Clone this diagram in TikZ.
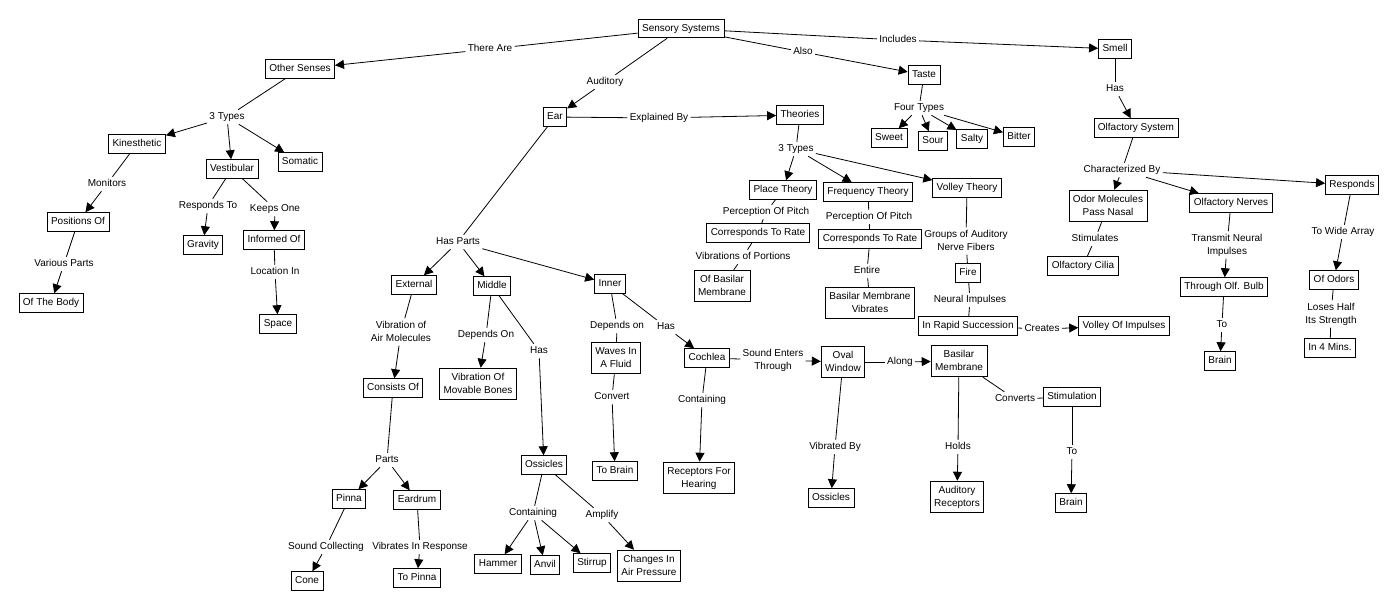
\documentclass[tikz,border=0pt]{standalone}
\usepackage{fontspec}
\setmainfont{Liberation Sans}
\usetikzlibrary{arrows.meta}
\begin{document}
\begin{tikzpicture}[x=1pt,y=-1pt,line width=0.8pt,
  concept/.style={draw,fill=white,align=center,font=\fontsize{10}{13}\selectfont,
    inner xsep=4pt,inner ysep=4.5pt,text height=7.5pt,text depth=2.2pt},
  concept2/.style={concept,text height=20.5pt},
  link/.style={align=center,font=\fontsize{10}{13}\selectfont,inner sep=2pt,
    text height=7.5pt,text depth=2.2pt},
  link2/.style={link,text height=20.5pt},
  arr/.style={-{Triangle[length=9pt,width=9pt]}}]

\useasboundingbox (0,0) rectangle (1398,610);

\node[concept] (ss) at (681,28.5) {Sensory Systems};
\node[link] (lthere) at (490,49) {There Are};
\node[concept] (other) at (300,69) {Other Senses};
\node[link] (laud) at (605,82) {Auditory};
\node[concept] (ear) at (555,117) {Ear};
\node[link] (lexpl) at (659,118) {Explained By};
\node[concept] (theo) at (800,115) {Theories};
\node[link] (lalso) at (803,52) {Also};
\node[concept] (taste) at (924,75) {Taste};
\node[link] (lincl) at (898,40) {Includes};
\node[concept] (smell) at (1115,49) {Smell};

% other senses
\node[link] (ltypesA) at (227,117) {3 Types};
\node[concept] (kin) at (137,144) {Kinesthetic};
\node[concept] (vest) at (232,169) {Vestibular};
\node[concept] (som) at (300,162) {Somatic};
\node[link] (lmon) at (107,184) {Monitors};
\node[concept] (pos) at (78,222) {Positions Of};
\node[link] (lvar) at (64,264) {Various Parts};
\node[concept] (body) at (51,303) {Of The Body};
\node[link] (lresp) at (208,206) {Responds To};
\node[concept] (grav) at (203,245) {Gravity};
\node[link] (lkeep) at (275,209) {Keeps One};
\node[concept] (inf) at (274,240) {Informed Of};
\node[link] (lloc) at (275,272) {Location In};
\node[concept] (space) at (278,324) {Space};

% ear
\node[link] (lparts) at (458,242) {Has Parts};
\node[concept] (ext) at (414,285) {External};
\node[concept] (mid) at (492,286) {Middle};
\node[concept] (inn) at (610,284) {Inner};
\node[link2] (lvib) at (401,332) {Vibration of\\Air Molecules};
\node[concept] (cons) at (393,388) {Consists Of};
\node[link] (lpt) at (387,460) {Parts};
\node[concept] (pinna) at (349,499) {Pinna};
\node[concept] (drum) at (417,500) {Eardrum};
\node[link] (lsound) at (326,547) {Sound Collecting};
\node[concept] (cone) at (307,581) {Cone};
\node[link] (lvresp) at (420,547) {Vibrates In Response};
\node[concept] (topin) at (417,578) {To Pinna};
\node[link] (ldepM) at (486,335) {Depends On};
\node[concept2] (bones) at (478,384) {Vibration Of\\Movable Bones};
\node[link] (lhasM) at (539,351) {Has};
\node[concept] (oss) at (544,465) {Ossicles};
\node[link] (lcontO) at (533,513) {Containing};
\node[concept] (ham) at (498,564) {Hammer};
\node[concept] (anv) at (545,565) {Anvil};
\node[concept] (stir) at (592,563) {Stirrup};
\node[link] (lamp) at (602,515) {Amplify};
\node[concept2] (press) at (649,566) {Changes In\\Air Pressure};
\node[link] (ldepI) at (617,326) {Depends on};
\node[concept2] (waves) at (616,358) {Waves In\\A Fluid};
\node[link] (lconv) at (612,397) {Convert};
\node[concept] (tobrain) at (615,471) {To Brain};
\node[link] (lhasI) at (666,327) {Has};
\node[concept] (coch) at (707,358) {Cochlea};
\node[link] (lcontC) at (702,400) {Containing};
\node[concept2] (recH) at (699,478) {Receptors For\\Hearing};
\node[link2] (lenter) at (773,360) {Sound Enters\\Through};
\node[concept2] (oval) at (843,362) {Oval\\Window};
\node[link] (lalong) at (900,362) {Along};
\node[concept2] (basil) at (959,361) {Basilar\\Membrane};
\node[link] (lvby) at (835,447) {Vibrated By};
\node[concept] (oss2) at (831,498) {Ossicles};
\node[link] (lholds) at (958,447) {Holds};
\node[concept2] (audrec) at (957,497) {Auditory\\Receptors};
\node[link] (lconvs) at (1015,399) {Converts};
\node[concept] (stim) at (1072,397) {Stimulation};
\node[link] (lto) at (1072,452) {To};
\node[concept] (brain) at (1071,503) {Brain};

% theories
\node[link] (ltypesT) at (796,149) {3 Types};
\node[concept] (place) at (783,190) {Place Theory};
\node[concept] (freq) at (868,192) {Frequency Theory};
\node[concept] (volley) at (967,188) {Volley Theory};
\node[link] (lpitchP) at (766,212) {Perception Of Pitch};
\node[concept] (rateP) at (758,233) {Corresponds To Rate};
\node[link] (lport) at (743,257) {Vibrations of Portions};
\node[concept2] (ofbm) at (722,286) {Of Basilar\\Membrane};
\node[link] (lpitchF) at (869,217) {Perception Of Pitch};
\node[concept] (rateF) at (870,239) {Corresponds To Rate};
\node[link] (lentire) at (867,271) {Entire};
\node[concept2] (bmv) at (870,303) {Basilar Membrane\\Vibrates};
\node[link2] (lgroups) at (966,241) {Groups of Auditory\\Nerve Fibers};
\node[concept] (fire) at (968,273) {Fire};
\node[link] (lneural) at (970,300) {Neural Impulses};
\node[concept] (rapid) at (968,326) {In Rapid Succession};
\node[link] (lcreates) at (1042,329) {Creates};
\node[concept] (volimp) at (1124,326) {Volley Of Impulses};

% taste
\node[link] (lfour) at (919,108) {Four Types};
\node[concept] (sweet) at (889,138) {Sweet};
\node[concept] (sour) at (933,141) {Sour};
\node[concept] (salty) at (972,139) {Salty};
\node[concept] (bitter) at (1019,137) {Bitter};

% smell
\node[link] (lhasS) at (1115,89) {Has};
\node[concept] (olfsys) at (1136,128) {Olfactory System};
\node[link] (lchar) at (1122,170) {Characterized By};
\node[concept2] (odor) at (1108,206) {Odor Molecules\\Pass Nasal};
\node[concept] (olfn) at (1231,203) {Olfactory Nerves};
\node[concept] (resp) at (1352,185) {Responds};
\node[link] (lstim) at (1095,239) {Stimulates};
\node[concept] (cilia) at (1083,266) {Olfactory Cilia};
\node[link2] (ltrans) at (1227,245) {Transmit Neural\\Impulses};
\node[concept] (bulb) at (1224,287) {Through Olf. Bulb};
\node[link] (ltoB) at (1222,325) {To};
\node[concept] (brain2) at (1220,361) {Brain};
\node[link] (lwide) at (1343,232) {To Wide Array};
\node[concept] (odors) at (1334,280) {Of Odors};
\node[link2] (lloses) at (1331,314) {Loses Half\\Its Strength};
\node[concept] (mins) at (1330,348) {In 4 Mins.};

\foreach \a/\b in {ss/lthere,ss/laud,ss/lalso,ss/lincl,other/ltypesA,kin/lmon,
    pos/lvar,vest/lresp,vest/lkeep,inf/lloc,ear/lexpl,ear/lparts,ext/lvib,
    cons/lpt,pinna/lsound,drum/lvresp,mid/ldepM,mid/lhasM,oss/lcontO,oss/lamp,
    inn/ldepI,ldepI/waves,waves/lconv,inn/lhasI,coch/lcontC,coch/lenter,
    oval/lalong,oval/lvby,basil/lholds,basil/lconvs,lconvs/stim,stim/lto,
    theo/ltypesT,place/lpitchP,lpitchP/rateP,rateP/lport,lport/ofbm,
    freq/lpitchF,lpitchF/rateF,rateF/lentire,lentire/bmv,volley/lgroups,
    lgroups/fire,fire/lneural,lneural/rapid,rapid/lcreates,taste/lfour,
    smell/lhasS,olfsys/lchar,odor/lstim,lstim/cilia,olfn/ltrans,bulb/ltoB,
    resp/lwide,odors/lloses,lloses/mins}
  \draw (\a) -- (\b);

\foreach \a/\b in {lthere/other,laud/ear,lexpl/theo,lalso/taste,lincl/smell,
    ltypesA/kin,ltypesA/vest,ltypesA/som,lmon/pos,lvar/body,lresp/grav,
    lkeep/inf,lloc/space,lparts/ext,lparts/mid,lparts/inn,lvib/cons,lpt/pinna,
    lpt/drum,lsound/cone,lvresp/topin,ldepM/bones,lhasM/oss,lcontO/ham,
    lcontO/anv,lcontO/stir,lamp/press,lconv/tobrain,lhasI/coch,lcontC/recH,
    lenter/oval,lalong/basil,lvby/oss2,lholds/audrec,lto/brain,ltypesT/place,
    ltypesT/freq,ltypesT/volley,lcreates/volimp,lfour/sweet,lfour/sour,
    lfour/salty,lfour/bitter,lhasS/olfsys,lchar/odor,lchar/olfn,lchar/resp,
    ltrans/bulb,ltoB/brain2,lwide/odors}
  \draw[arr] (\a) -- (\b);
\end{tikzpicture}
\end{document}
